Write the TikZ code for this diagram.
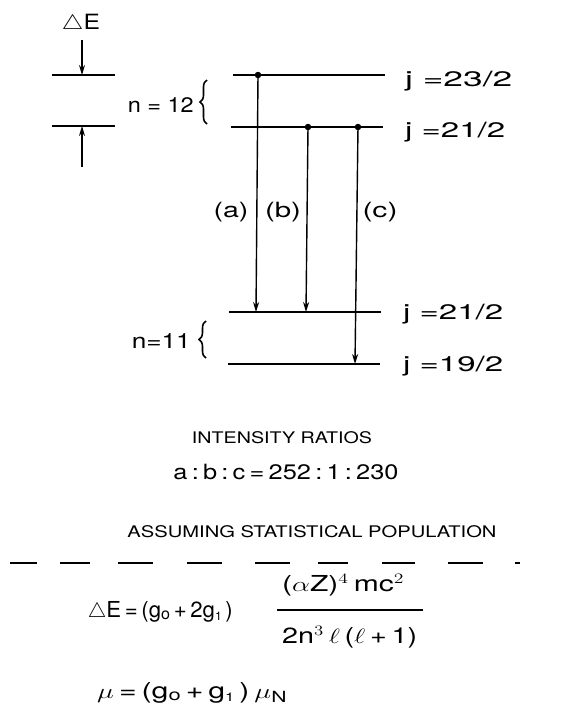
\documentclass[tikz,border=0pt]{standalone}
\usepackage{fontspec}
\usepackage{graphicx}
\setmainfont{TeX Gyre Heros}
\usetikzlibrary{arrows.meta,decorations.pathreplacing}
\newcommand\wbox[2]{\resizebox{#1pt}{\height}{#2}}
\newcommand\sbo{\raisebox{-1.5pt}{\fontsize{16}{16}\selectfont o}}
\newcommand\sbi{\raisebox{-2.5pt}{\fontsize{12}{12}\selectfont 1}}
\begin{document}
\begin{tikzpicture}[x=1pt,y=-1pt,
  lev/.style={line width=1.8pt},
  trans/.style={line width=1.4pt,-{Stealth[length=10pt,width=6pt]}},
  lbl/.style={font=\fontsize{21}{24}\selectfont, inner sep=0pt},
  caps/.style={font=\fontsize{16}{18}\selectfont, inner sep=0pt},
  eq/.style={font=\fontsize{22}{24}\selectfont, inner sep=0pt},
  lvdot/.style={circle,fill,inner sep=0pt,minimum size=6.5pt},
  brc/.style={line width=1.6pt,decorate,decoration={brace,amplitude=7pt}}
]
\useasboundingbox (0,0) rectangle (563,710);
\fill[white] (0,0) rectangle (563,710);

% Delta E scale at left
\node[lbl] (dE) at (81,24) {\wbox{38}{$\triangle$E}};
\coordinate (s1a) at (52,75); \coordinate (s1b) at (115,75);
\coordinate (s2a) at (52,126); \coordinate (s2b) at (115,126);
\draw[lev] (s1a) -- (s1b);
\draw[lev] (s2a) -- (s2b);
\coordinate (dEtop) at (82,40); \coordinate (dEm1) at (82,75);
\coordinate (dEbot) at (82,167); \coordinate (dEm2) at (82,126);
\draw[trans] (dEtop) -- (dEm1);
\draw[trans] (dEbot) -- (dEm2);

% n = 12 levels
\coordinate (u1a) at (233,75); \coordinate (u1b) at (385,75);
\coordinate (u2a) at (231,127); \coordinate (u2b) at (383,127);
\draw[lev] (u1a) -- (u1b);
\draw[lev] (u2a) -- (u2b);
\node[lbl,anchor=base west] (j1) at (405,86) {\wbox{107}{j =23/2}};
\node[lbl,anchor=base west] (j2) at (405,137) {\wbox{100}{j =21/2}};
\node[lbl,anchor=base east] (n12) at (194,112) {\wbox{66}{n = 12}};
\coordinate (b12a) at (207,124); \coordinate (b12b) at (207,80);
\draw[brc] (b12a) -- (b12b);

% n = 11 levels
\coordinate (l1a) at (229,312); \coordinate (l1b) at (381,312);
\coordinate (l2a) at (228,364); \coordinate (l2b) at (380,364);
\draw[lev] (l1a) -- (l1b);
\draw[lev] (l2a) -- (l2b);
\node[lbl,anchor=base west] (j3) at (403,319) {\wbox{100}{j =21/2}};
\node[lbl,anchor=base west] (j4) at (403,371) {\wbox{100}{j =19/2}};
\node[lbl,anchor=base east] (n11) at (191,348) {\wbox{59}{n=11}};
\coordinate (b11a) at (206,358); \coordinate (b11b) at (206,321);
\draw[brc] (b11a) -- (b11b);

% transitions
\node[lvdot] (da) at (258,75) {};
\node[lvdot] (db) at (308,127) {};
\node[lvdot] (dc) at (358,127) {};
\coordinate (ea) at (256,312);
\coordinate (eb) at (306,312);
\coordinate (ec) at (355,364);
\draw[trans] (da.center) -- (ea);
\draw[trans] (db.center) -- (eb);
\draw[trans] (dc.center) -- (ec);
\node[lbl] (la) at (231,212) {\wbox{35}{(a)}};
\node[lbl] (lb) at (283,212) {\wbox{36}{(b)}};
\node[lbl] (lc) at (380,212) {\wbox{35}{(c)}};

% texts
\node[caps] (ir) at (282,438) {\wbox{180}{INTENSITY RATIOS}};
\node[lbl] (rat) at (286,472) {\wbox{225}{a\,:\,b\,:\,c\,=\,252\,:\,1\,:\,230}};
\node[caps] (asp) at (312,532) {\wbox{369}{ASSUMING STATISTICAL POPULATION}};

% dashed separator
\foreach \a/\b in {10/37,60/90,118/153,187/222,255/290,318/348,382/415,448/483,515/520}{
  \draw[line width=2.6pt] (\a,563) -- (\b,563);
}

% formulas
\node[eq,anchor=east] (f1) at (233,612) {\wbox{145}{$\triangle$E\,=\,(g\sbo\,+\,2g\sbi\,)}};
\node[eq,anchor=west] (fn) at (282,585) {\wbox{122}{($\alpha$Z)$^{4}$\,mc$^{2}$}};
\node[eq,anchor=west] (fd) at (282,637) {\wbox{135}{2n$^{3}$\,$\ell$\,($\ell$\,+\,1)}};
\coordinate (fba) at (277,610); \coordinate (fbb) at (423,610);
\draw[line width=1.3pt] (fba) -- (fbb);
\node[eq,anchor=west] (f2) at (97,693) {\wbox{190}{$\mu$\,=\,(g\sbo\,+\,g\sbi\,)\,$\mu_{\mathrm{N}}$}};
\end{tikzpicture}
\end{document}
